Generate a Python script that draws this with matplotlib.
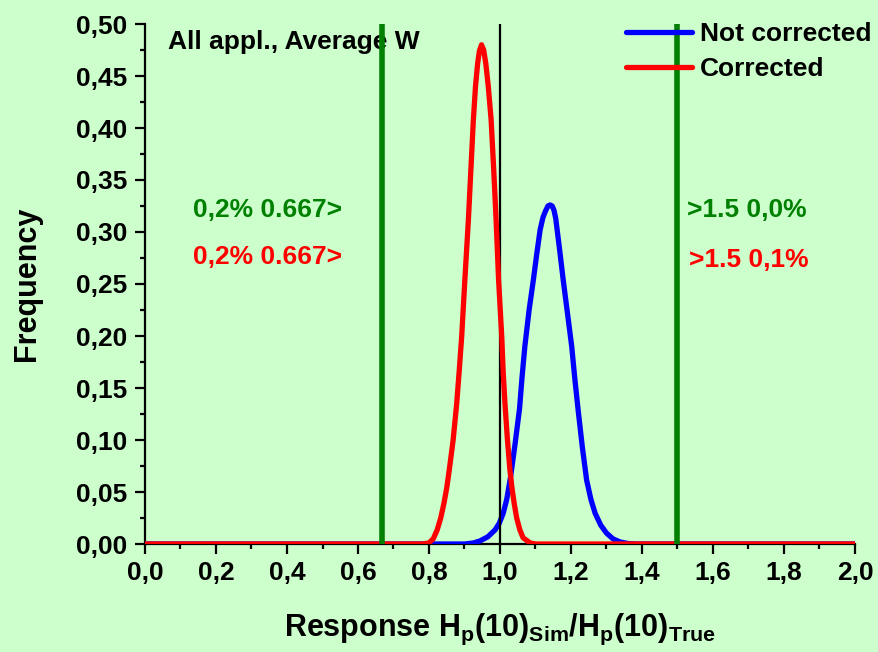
import numpy as np
import matplotlib
matplotlib.use("Agg")
import matplotlib.pyplot as plt
from matplotlib.ticker import MultipleLocator, FuncFormatter

# Curvas (respuesta, frecuencia)
x_not_corr = [0.0, 0.90, 0.925, 0.944, 0.966, 0.986, 0.998, 1.009, 1.019, 1.030,
              1.042, 1.055, 1.062, 1.070, 1.082, 1.094, 1.104, 1.113, 1.121,
              1.128, 1.135, 1.141, 1.147, 1.152, 1.157, 1.161, 1.169, 1.178,
              1.190, 1.202, 1.211, 1.221, 1.232, 1.244, 1.256, 1.268, 1.284,
              1.300, 1.318, 1.338, 1.360, 1.380, 2.0]
y_not_corr = [0.0, 0.0, 0.001, 0.003, 0.007, 0.0135, 0.020, 0.0295, 0.043, 0.065,
              0.095, 0.130, 0.160, 0.190, 0.225, 0.254, 0.280, 0.302, 0.314,
              0.320, 0.325, 0.326, 0.325, 0.321, 0.313, 0.302, 0.280, 0.254,
              0.222, 0.190, 0.158, 0.126, 0.093, 0.0615, 0.043, 0.0295, 0.018,
              0.0105, 0.005, 0.002, 0.0005, 0.0, 0.0]

x_corr = [0.0, 0.78, 0.800, 0.812, 0.823, 0.833, 0.842, 0.850, 0.857, 0.868,
          0.878, 0.885, 0.892, 0.901, 0.911, 0.918, 0.925, 0.931, 0.937, 0.942,
          0.948, 0.954, 0.960, 0.967, 0.975, 0.982, 0.989, 0.996, 1.005, 1.009,
          1.014, 1.021, 1.028, 1.034, 1.040, 1.047, 1.056, 1.065, 1.085, 1.100,
          2.0]
y_corr = [0.0, 0.0, 0.001, 0.005, 0.0135, 0.025, 0.039, 0.054, 0.071, 0.100,
          0.135, 0.166, 0.199, 0.254, 0.312, 0.360, 0.408, 0.440, 0.462, 0.474,
          0.480, 0.475, 0.462, 0.440, 0.408, 0.362, 0.312, 0.254, 0.199, 0.165,
          0.135, 0.100, 0.071, 0.053, 0.039, 0.025, 0.0135, 0.006, 0.001, 0.0,
          0.0]

limites = [0.667, 1.5]
referencia = 1.0

etiquetas_izq = ["0,2% 0.667>", "0,2% 0.667>"]
etiquetas_der = [">1.5 0,0%", ">1.5 0,1%"]

plt.rcParams['font.family'] = ['Liberation Sans', 'DejaVu Sans']
plt.rcParams['font.weight'] = 'bold'
plt.rcParams['mathtext.fontset'] = 'custom'
plt.rcParams['mathtext.bf'] = 'Liberation Sans:bold'
plt.rcParams['mathtext.rm'] = 'Liberation Sans:bold'
plt.rcParams['mathtext.default'] = 'bf'

fondo = '#ccffcc'
verde = '#008000'

fig = plt.figure(figsize=(8.79, 6.52), dpi=100, facecolor=fondo)
ax = fig.add_axes([145/879, 108/652, 710/879, 520/652])
ax.set_facecolor(fondo)

ax.plot(x_not_corr, y_not_corr, color='blue', lw=3.8, label='Not corrected',
        solid_capstyle='round', solid_joinstyle='round', zorder=3)
ax.plot(x_corr, y_corr, color='red', lw=3.8, label='Corrected',
        solid_capstyle='round', solid_joinstyle='round', zorder=4)
ax.vlines(referencia, 0, 0.5, color='black', lw=1.6, zorder=3.5)
ax.vlines(limites, 0, 0.5, color=verde, lw=4, zorder=5)

ax.set_xlim(0, 2.0)
ax.set_ylim(0, 0.5)

for s in ['top', 'right']:
    ax.spines[s].set_visible(False)
for s in ['left', 'bottom']:
    ax.spines[s].set_linewidth(1.6)

ax.xaxis.set_major_locator(MultipleLocator(0.2))
ax.xaxis.set_minor_locator(MultipleLocator(0.1))
ax.yaxis.set_major_locator(MultipleLocator(0.05))
ax.yaxis.set_minor_locator(MultipleLocator(0.025))
ax.xaxis.set_major_formatter(FuncFormatter(lambda v, p: f"{v:.1f}".replace('.', ',')))
ax.yaxis.set_major_formatter(FuncFormatter(lambda v, p: f"{v:.2f}".replace('.', ',')))
ax.tick_params(which='major', direction='out', length=7.5, width=1.6,
               labelsize=19, pad=5)
ax.tick_params(which='minor', direction='out', length=3.8, width=1.6)

ax.set_ylabel('Frequency', fontsize=22, fontweight='bold')
ax.yaxis.set_label_coords(-0.145, 0.5)
ax.set_xlabel(r'Response H$_{p}$(10)$_{Sim}$/H$_{p}$(10)$_{True}$',
              fontsize=22, fontweight='bold')
ax.xaxis.set_label_coords(0.5, -0.13)

ax.text(0.065, 0.483, 'All appl., Average W', fontsize=19, va='center', ha='left')
ax.text(0.135, 0.321, etiquetas_izq[0], color=verde, fontsize=19, va='center')
ax.text(0.135, 0.276, etiquetas_izq[1], color='red', fontsize=19, va='center')
ax.text(1.527, 0.321, etiquetas_der[0], color=verde, fontsize=19, va='center')
ax.text(1.533, 0.273, etiquetas_der[1], color='red', fontsize=19, va='center')

leg = ax.legend(loc='upper left', bbox_to_anchor=(626/879, 1 - 22/652),
                bbox_transform=fig.transFigure, frameon=False, fontsize=19,
                handlelength=2.5, handletextpad=0.3, labelspacing=0.42,
                borderpad=0, borderaxespad=0)

fig.savefig('out.png', dpi=100, facecolor=fondo)
